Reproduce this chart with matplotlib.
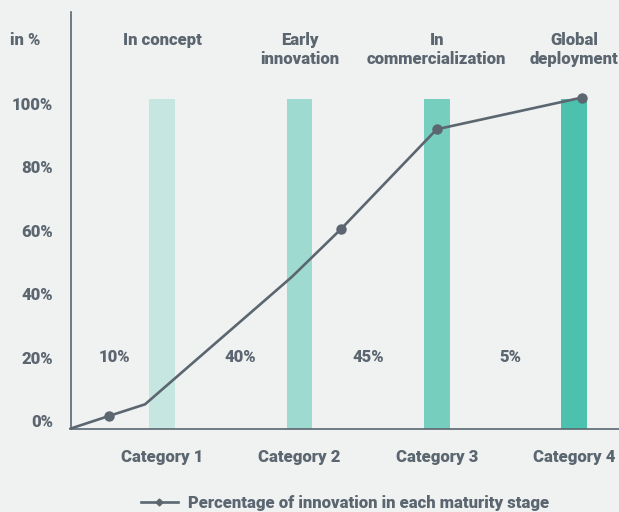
import matplotlib.pyplot as plt
from matplotlib.lines import Line2D

# data
categories = ["Category 1", "Category 2", "Category 3", "Category 4"]
stages = ["In concept", "Early\ninnovation", "In\ncommercialization", "Global\ndeployment"]
bar_values = [100, 100, 100, 100]
shares = ["10%", "40%", "45%", "5%"]
share_x = [0.65, 1.57, 2.5, 3.54]

line_x = [0.33, 0.615, 0.875, 1.945, 2.30, 3.0, 4.055]
line_y = [0, 3.9, 7.4, 46.1, 60.5, 90.9, 100.5]
marker_idx = [1, 4, 5, 6]

ytick_labels = ["0%", "20%", "40%", "60%", "80%", "100%"]
ytick_pos = [2.4, 21.7, 41.0, 60.2, 79.5, 98.7]

bg = "#f0f2f1"
txt = "#5b6670"
bar_colors = ["#c6e7e1", "#9fdad0", "#76cebf", "#4cc1ae"]

plt.rcParams['font.family'] = ['Roboto', 'DejaVu Sans']
fw = 'heavy'
plt.rcParams['font.weight'] = fw
fs = 12

fig = plt.figure(figsize=(6.19, 5.12), dpi=100, facecolor=bg)
ax = fig.add_axes([70.5/619, 1-428.7/512, 1-70.5/619, (428.7-12)/512])
ax.set_facecolor(bg)

xs = range(1, len(categories)+1)
ax.bar(xs, bar_values, width=0.187, color=bar_colors, zorder=1)

ax.plot(line_x, line_y, color=txt, lw=1.9, marker='o', ms=6.5,
        markevery=marker_idx, zorder=3, clip_on=False, solid_capstyle='round')

for x, s in zip(share_x, shares):
    ax.text(x, ytick_pos[1], s, ha='center', va='center', fontsize=fs, color=txt, weight=fw)

for x, s in zip(xs, stages):
    ax.text(x, 1-20/416.7, s, ha='center', va='top', fontsize=fs, color=txt, weight=fw,
            transform=ax.get_xaxis_transform(), linespacing=1.25, clip_on=False)

ax.set_xlim(0.332, 4.328)
ax.set_ylim(0, 126.5)
ax.set_xticks(list(xs), categories, fontsize=fs, color=txt, weight=fw)
ax.set_yticks(ytick_pos, ytick_labels, fontsize=fs, color=txt, weight=fw)
ax.tick_params(axis='both', length=0)
ax.tick_params(axis='x', pad=14.5)
ax.tick_params(axis='y', pad=12.5)
for sp in ['top', 'right']:
    ax.spines[sp].set_visible(False)
for sp in ['left', 'bottom']:
    ax.spines[sp].set_color(txt)
    ax.spines[sp].set_linewidth(1.2)

fig.text(10/619, 1-40/512, "in %", ha='left', va='center', fontsize=fs, color=txt, weight=fw)

handle = Line2D([], [], color=txt, lw=1.9, marker='D', ms=3.5)
fig.legend([handle], ["Percentage of innovation in each maturity stage"], loc='center',
           bbox_to_anchor=(345/619, 1-503/512), frameon=False, handlelength=2.2,
           handletextpad=0.6, prop={'size': fs, 'weight': fw}, labelcolor=txt)

fig.savefig("out.png", dpi=100, facecolor=bg)
